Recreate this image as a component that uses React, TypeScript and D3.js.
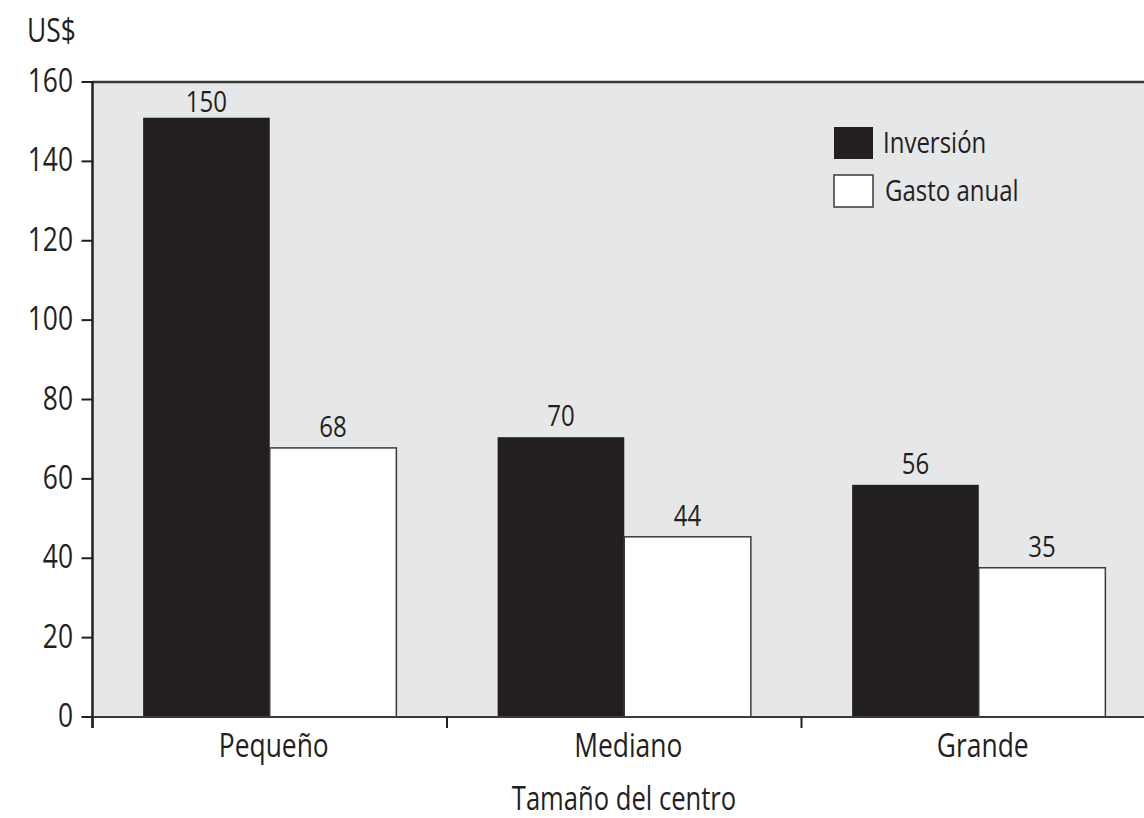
import * as d3 from 'd3';

const categories = ['Pequeño', 'Mediano', 'Grande'];
const seriesNames = ['Inversión', 'Gasto anual'];
// bar heights as drawn in the picture
const inversion = [151, 70.5, 58.5];
const gastoAnual = [67.8, 45.4, 37.6];
// printed value labels
const inversionLabels = ['150', '70', '56'];
const gastoLabels = ['68', '44', '35'];
const yTicks = [0, 20, 40, 60, 80, 100, 120, 140, 160];

const WIDTH = 1144;
const HEIGHT = 818;
const FONT = '"Open Sans", "DejaVu Sans", sans-serif';
const INK = '#231f20';
// the original face is a condensed humanist sans; squeeze Open Sans to match
const SQUEEZE = 0.8;

function T({
  x,
  y,
  size,
  anchor = 'start',
  children,
}: {
  x: number;
  y: number;
  size: number;
  anchor?: 'start' | 'middle' | 'end';
  children: React.ReactNode;
}) {
  return (
    <text
      transform={`translate(${x},${y}) scale(${SQUEEZE},1)`}
      textAnchor={anchor}
      fontSize={size}
      fill={INK}
    >
      {children}
    </text>
  );
}

export default function App() {
  const left = 92.5;
  const top = 82;
  const bottom = 717;
  const bandW = 354.5;

  const x0 = d3
    .scaleBand<string>()
    .domain(categories)
    .range([left, left + bandW * categories.length])
    .padding(0);

  const x1 = d3
    .scaleBand<string>()
    .domain(seriesNames)
    .range([0, x0.bandwidth()])
    .paddingInner(0)
    .paddingOuter(0.4);

  const y = d3.scaleLinear().domain([0, 160]).range([bottom, top]);

  const series = [
    { name: seriesNames[0], values: inversion, labels: inversionLabels, fill: INK, stroke: 'none' },
    { name: seriesNames[1], values: gastoAnual, labels: gastoLabels, fill: '#ffffff', stroke: '#3a3a3a' },
  ];

  const catEdges = [
    ...categories.map(c => x0(c) ?? 0),
    (x0(categories[categories.length - 1]) ?? 0) + x0.bandwidth(),
  ];

  return (
    <svg
      width={WIDTH}
      height={HEIGHT}
      style={{ position: 'absolute', left: 0, top: 0, background: '#fff' }}
      fontFamily={FONT}
    >
      {/* plot background */}
      <rect x={left} y={top} width={WIDTH - left + 20} height={bottom - top} fill="#e6e7e8" />

      {/* bars */}
      {series.map(s =>
        categories.map((c, i) => {
          const bx = (x0(c) ?? 0) + (x1(s.name) ?? 0);
          const by = y(s.values[i]);
          return (
            <g key={`${s.name}-${c}`}>
              <rect
                x={bx}
                y={by}
                width={x1.bandwidth()}
                height={bottom - by}
                fill={s.fill}
                stroke={s.stroke}
                strokeWidth={1.5}
              />
              <T x={bx + x1.bandwidth() / 2} y={Math.max(by - 11, top + 30)} size={30} anchor="middle">
                {s.labels[i]}
              </T>
            </g>
          );
        }),
      )}

      {/* top border */}
      <line x1={left} x2={WIDTH + 20} y1={top} y2={top} stroke="#3a3a3a" strokeWidth={2.5} />
      {/* axes */}
      <line x1={left} x2={left} y1={top - 1} y2={bottom + 11} stroke={INK} strokeWidth={2.5} />
      <line x1={left} x2={WIDTH + 20} y1={bottom} y2={bottom} stroke="#3a3a3a" strokeWidth={2} />

      {/* y ticks */}
      {yTicks.map(t => (
        <g key={t}>
          <line x1={left - 11} x2={left} y1={y(t)} y2={y(t)} stroke={INK} strokeWidth={2} />
          <T x={73} y={y(t) + 10} size={33} anchor="end">
            {t}
          </T>
        </g>
      ))}

      {/* x ticks at category boundaries */}
      {catEdges.map((e, i) => (
        <line key={i} x1={e} x2={e} y1={bottom} y2={bottom + 11} stroke={INK} strokeWidth={2} />
      ))}

      {/* category labels */}
      {categories.map(c => (
        <T key={c} x={(x0(c) ?? 0) + x0.bandwidth() / 2 + 4} y={757} size={33} anchor="middle">
          {c}
        </T>
      ))}

      {/* axis titles */}
      <T x={27} y={42} size={33}>
        US$
      </T>
      <T x={624} y={810} size={32} anchor="middle">
        Tamaño del centro
      </T>

      {/* legend */}
      {series.map((s, i) => (
        <g key={s.name} transform={`translate(834, ${127 + i * 48})`}>
          <rect
            x={0}
            y={0}
            width={39}
            height={32}
            fill={s.fill}
            stroke={s.stroke === 'none' ? 'none' : '#3a3a3a'}
            strokeWidth={1.5}
          />
          <T x={49 + i * 2} y={26} size={30}>
            {s.name}
          </T>
        </g>
      ))}
    </svg>
  );
}
